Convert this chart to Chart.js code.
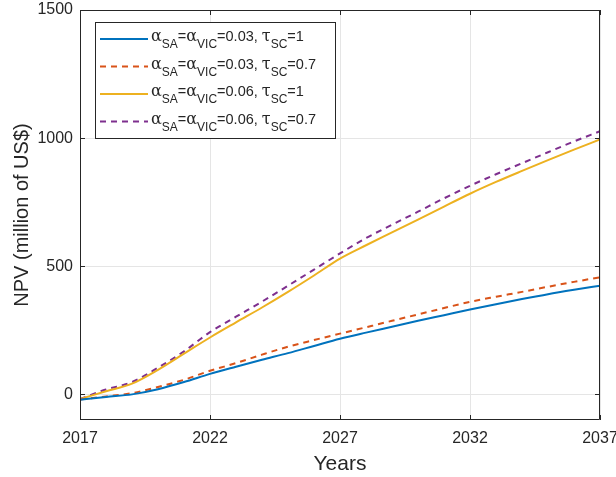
<!DOCTYPE html>
<html>
<head>
<meta charset="utf-8">
<script src="https://cdn.jsdelivr.net/npm/chart.js@4"></script>
<style>
  html, body { margin: 0; padding: 0; background: #fff; }
  #wrap { width: 616px; height: 477px; }
</style>
</head>
<body>
<div id="wrap"><canvas id="npvChart" width="616" height="477"></canvas></div>
<script>
// years on the x axis
const years = [2017, 2018, 2019, 2020, 2021, 2022, 2023, 2024, 2025, 2026, 2027,
               2028, 2029, 2030, 2031, 2032, 2033, 2034, 2035, 2036, 2037];

// NPV values (million of US$)
const npvA03T1 = [-21, -10, 0, 20, 48, 80, 108, 135, 161, 189, 217,
                  241, 264, 287, 309, 331, 352, 372, 391, 408, 424];
const npvA03T07 = [-20, -8, 5, 29, 57, 92, 122, 155, 186, 212, 237,
                   262, 287, 312, 337, 361, 381, 400, 420, 439, 457];
const npvA06T1 = [-18, 12, 42, 96, 159, 222, 281, 339, 400, 464, 530,
                  582, 632, 682, 733, 783, 829, 872, 914, 955, 995];
const npvA06T07 = [-18, 19, 48, 104, 168, 243, 303, 362, 424, 487, 550,
                   610, 662, 713, 765, 814, 859, 902, 945, 987, 1027];

const alphas = ["0.03", "0.03", "0.06", "0.06"];
const taus = ["1", "0.7", "1", "0.7"];

const yTicks = [0, 500, 1000, 1500];
const xTicks = [2017, 2022, 2027, 2032, 2037];

const colors = ["#0072BD", "#D95319", "#EDB120", "#7E2F8E"];
const dashes = [[], [6, 5], [], [6, 5]];
const series = [npvA03T1, npvA03T07, npvA06T1, npvA06T07];

const FONT = "'Liberation Sans', Arial, Helvetica, sans-serif";
const AXIS_COLOR = "#262626";

function toPoints(vals) {
  return years.map((y, i) => ({ x: y, y: vals[i] }));
}

// box + inward ticks, matlab style
const boxPlugin = {
  id: "boxAxes",
  afterDatasetsDraw(chart) {
    const { ctx, chartArea: a, scales } = chart;
    ctx.save();
    ctx.strokeStyle = AXIS_COLOR;
    ctx.lineWidth = 1;
    ctx.beginPath();
    ctx.rect(a.left + 0.5, a.top + 0.5, a.right - a.left - 1, a.bottom - a.top - 1);
    ctx.stroke();
    ctx.beginPath();
    const tl = 5;
    xTicks.forEach(v => {
      const px = Math.round(scales.x.getPixelForValue(v)) + 0.5;
      ctx.moveTo(px, a.bottom);
      ctx.lineTo(px, a.bottom - tl);
      ctx.moveTo(px, a.top);
      ctx.lineTo(px, a.top + tl);
    });
    yTicks.forEach(v => {
      const py = Math.round(scales.y.getPixelForValue(v)) + 0.5;
      ctx.moveTo(a.left, py);
      ctx.lineTo(a.left + tl, py);
      ctx.moveTo(a.right, py);
      ctx.lineTo(a.right - tl, py);
    });
    ctx.stroke();
    ctx.restore();
  },
  afterDraw(chart) {
    // legend with greek letters and subscripts
    const { ctx } = chart;
    const bx = 95, by = 22, bw = 240, bh = 116;
    ctx.save();
    ctx.fillStyle = "#fff";
    ctx.fillRect(bx, by, bw, bh);
    ctx.strokeStyle = AXIS_COLOR;
    ctx.lineWidth = 1;
    ctx.strokeRect(bx + 0.5, by + 0.5, bw, bh);
    const main = "14.5px " + FONT;
    const greek = "16px 'DejaVu Serif', serif";
    const sub = "12px " + FONT;
    for (let i = 0; i < 4; i++) {
      const cy = by + 17 + i * 27.5;
      ctx.strokeStyle = colors[i];
      ctx.lineWidth = 2;
      ctx.setLineDash(dashes[i]);
      ctx.beginPath();
      ctx.moveTo(100, cy);
      ctx.lineTo(148, cy);
      ctx.stroke();
      ctx.setLineDash([]);
      const parts = [
        ["α", 2], ["SA", 1], ["=", 0], ["α", 2], ["VIC", 1],
        ["=" + alphas[i] + ", ", 0], ["τ", 2], ["SC", 1], ["=" + taus[i], 0]
      ];
      let x = 151;
      ctx.fillStyle = AXIS_COLOR;
      ctx.textBaseline = "middle";
      ctx.textAlign = "left";
      parts.forEach(([t, s]) => {
        ctx.font = s === 1 ? sub : (s === 2 ? greek : main);
        ctx.fillText(t, x, s === 1 ? cy + 6 : cy - 2);
        x += ctx.measureText(t).width;
      });
    }
    ctx.restore();
  }
};

const datasets = series.map((vals, i) => ({
  data: toPoints(vals),
  borderColor: colors[i],
  backgroundColor: colors[i],
  borderWidth: 2,
  borderDash: dashes[i],
  pointRadius: 0,
  cubicInterpolationMode: "monotone",
  fill: false
}));

new Chart(document.getElementById("npvChart"), {
  type: "line",
  data: { datasets: datasets },
  options: {
    responsive: false,
    animation: false,
    layout: { padding: { top: 10, right: 16, left: 10, bottom: 0 } },
    plugins: { legend: { display: false }, tooltip: { enabled: false } },
    scales: {
      x: {
        type: "linear",
        min: 2017,
        max: 2037,
        afterBuildTicks(s) { s.ticks = xTicks.map(v => ({ value: v })); },
        afterFit(s) { s.height = 57; s.paddingLeft = 0; s.paddingRight = 0; },
        grid: { color: "#e5e5e5", drawTicks: false },
        border: { display: false },
        ticks: {
          color: AXIS_COLOR,
          padding: 9,
          font: { family: FONT, size: 16 },
          callback: v => String(v)
        },
        title: {
          display: true,
          text: "Years",
          color: AXIS_COLOR,
          padding: { top: 1, bottom: 0 },
          font: { family: FONT, size: 21 }
        }
      },
      y: {
        type: "linear",
        min: -100,
        max: 1500,
        afterBuildTicks(s) { s.ticks = yTicks.map(v => ({ value: v })); },
        afterFit(s) { s.width = 70; s.paddingTop = 0; s.paddingBottom = 0; },
        grid: { color: "#e5e5e5", drawTicks: false },
        border: { display: false },
        ticks: {
          color: AXIS_COLOR,
          padding: 7,
          font: { family: FONT, size: 16 },
          callback: v => String(v)
        },
        title: {
          display: true,
          text: "NPV (million of US$)",
          color: AXIS_COLOR,
          padding: { top: 0, bottom: 4 },
          font: { family: FONT, size: 20 }
        }
      }
    }
  },
  plugins: [boxPlugin]
});
</script>
</body>
</html>
